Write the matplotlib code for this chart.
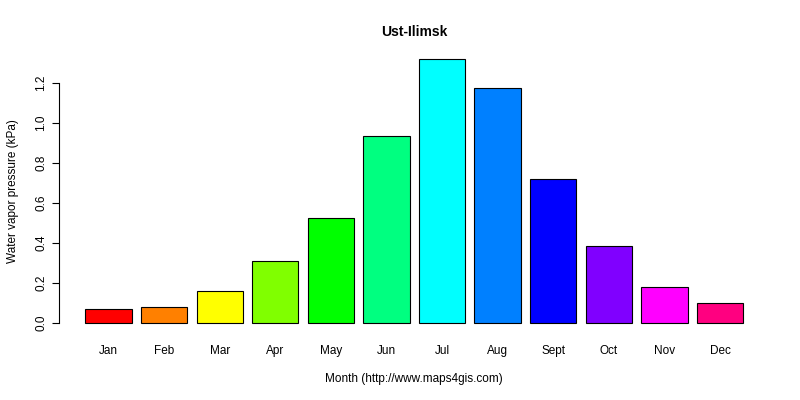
import matplotlib
matplotlib.use('Agg')
import matplotlib.pyplot as plt
import numpy as np

months = ['Jan', 'Feb', 'Mar', 'Apr', 'May', 'Jun', 'Jul', 'Aug', 'Sept', 'Oct', 'Nov', 'Dec']
vapor = [0.07, 0.08, 0.16, 0.31, 0.525, 0.935, 1.32, 1.175, 0.72, 0.385, 0.18, 0.10]
colors = ['#FF0000', '#FF8000', '#FFFF00', '#80FF00', '#00FF00', '#00FF80',
          '#00FFFF', '#0080FF', '#0000FF', '#8000FF', '#FF00FF', '#FF0080']

plt.rcParams['font.family'] = ['Liberation Sans', 'DejaVu Sans']
fig = plt.figure(figsize=(8, 4), dpi=100)
ax = fig.add_axes([59 / 800, 0.166, (769.5 - 59) / 800, 0.879 - 0.166])

x = np.arange(len(months)) * 1.2 + 0.7
ax.bar(x, vapor, width=1.0, color=colors, edgecolor='black', linewidth=0.8)
ax.set_xlim(-0.368, 14.968)
ax.set_ylim(-0.0528, 1.3728)

for s in ['top', 'right', 'bottom']:
    ax.spines[s].set_visible(False)
ax.spines['left'].set_bounds(0, 1.2)
ax.set_yticks(np.arange(0, 1.21, 0.2))
ax.set_yticklabels(['%.1f' % v for v in np.arange(0, 1.21, 0.2)], rotation=90, va='center', fontsize=8.5)
ax.set_xticks(x)
ax.set_xticklabels(months, fontsize=8.5)
ax.tick_params(axis='x', length=0, pad=8)
ax.tick_params(axis='y', length=5)

ax.set_title('Ust-Ilimsk', fontweight='bold', fontsize=10, pad=9)
ax.set_xlabel('Month (http://www.maps4gis.com)', fontsize=8.5, labelpad=12)
ax.set_ylabel('Water vapor pressure (kPa)', fontsize=8.5, labelpad=12)

fig.savefig('out.png', dpi=100)
